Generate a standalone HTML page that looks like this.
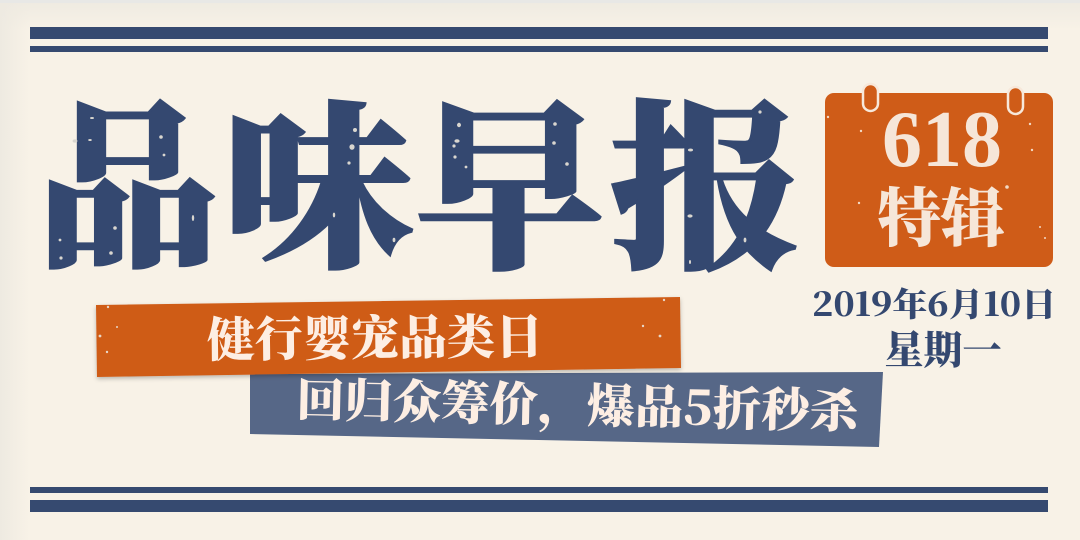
<!DOCTYPE html>
<html lang="zh-CN">
<head>
<meta charset="utf-8">
<title>品味早报</title>
<style>
html,body{margin:0;padding:0;width:1080px;height:540px;overflow:hidden;background:#f8f2e7}
svg{display:block}
.serif{font-family:"Liberation Serif","Noto Serif CJK SC",serif}
.title{font-family:"Noto Serif CJK SC",serif;font-weight:900;font-size:190px;fill:#344870;stroke:#344870;stroke-width:3px}
.cjk{font-family:"Noto Serif CJK SC",serif;font-weight:900}
</style>
</head>
<body>
<svg width="1080" height="540" viewBox="0 0 1080 540" xmlns="http://www.w3.org/2000/svg">
  <defs>
    <linearGradient id="edgeL" x1="0" x2="1" y1="0" y2="0">
      <stop offset="0" stop-color="#eeeae1"/><stop offset="1" stop-color="#eeeae1" stop-opacity="0"/>
    </linearGradient>
    <linearGradient id="edgeT" x1="0" x2="0" y1="0" y2="1">
      <stop offset="0" stop-color="#eeeae1"/><stop offset="1" stop-color="#eeeae1" stop-opacity="0"/>
    </linearGradient>
    <filter id="soft" x="-5%" y="-20%" width="110%" height="140%"><feDropShadow dx="0" dy="2" stdDeviation="2" flood-color="#000" flood-opacity=".25"/></filter>
  </defs>

  <rect width="1080" height="540" fill="#f8f2e7"/>
  <rect width="30" height="540" fill="url(#edgeL)"/>
  <rect width="1080" height="30" fill="url(#edgeT)"/>
  <rect width="1080" height="3" fill="#e8e8e6"/>

  <rect x="30" y="27" width="1018" height="12" fill="#364a70"/>
  <rect x="30" y="46" width="1018" height="6" fill="#364a70"/>
  <rect x="30" y="487" width="1018" height="6" fill="#364a70"/>
  <rect x="30" y="500" width="1018" height="12" fill="#364a70"/>

  <g>
    <text class="title" transform="translate(36.5 253) scale(.96 .95)">品</text>
    <text class="title" transform="translate(223 253) scale(1 .95)">味</text>
    <text class="title" transform="translate(414 253) scale(1 .95)">早</text>
    <text class="title" transform="translate(610 253) scale(1 .95)">报</text>
  </g>
  <g fill="#d9d6cf">
    <ellipse cx="75" cy="141" rx="2.4" ry="1.6"/><ellipse cx="92" cy="118" rx="2" ry="1"/><ellipse cx="90" cy="140" rx="1.8" ry="1"/><circle cx="161" cy="137" r="1.8"/><circle cx="164" cy="155" r="1.4"/>
    <circle cx="60" cy="240" r="1.4"/><circle cx="61" cy="258" r="1.6"/><circle cx="115" cy="228" r="1.8"/><circle cx="111" cy="253" r="1.8"/><ellipse cx="193" cy="218" rx="1.2" ry="3"/>
    <ellipse cx="352" cy="147" rx="2.6" ry="2.8"/><circle cx="355" cy="130" r="2"/><circle cx="349" cy="163" r="1.6"/><ellipse cx="334" cy="215" rx="1.2" ry="2.4"/><ellipse cx="394" cy="240" rx="1.4" ry="2.2"/>
    <ellipse cx="459" cy="125" rx="2" ry="2.2"/><ellipse cx="457" cy="141" rx="2.6" ry="1.8"/><circle cx="454" cy="146" r="1.6"/><circle cx="455" cy="157" r="1.6"/><circle cx="555" cy="124" r="1.8"/><circle cx="554" cy="143" r="1.8"/><circle cx="567" cy="164" r="1.8"/><circle cx="466" cy="167" r="1.4"/>
    <ellipse cx="690" cy="150" rx="2" ry="1.4"/><ellipse cx="690" cy="216" rx="2.6" ry="1.6"/><ellipse cx="745" cy="240" rx="1.4" ry="2.4"/><ellipse cx="690" cy="262" rx="1" ry="2"/><circle cx="760" cy="112" r="1.6"/><ellipse cx="691" cy="150" rx="2" ry="1.4"/>
  </g>

  <g>
    <rect x="825" y="93" width="228" height="174" rx="9" fill="#cf5c18"/>
    <rect x="863" y="84" width="15" height="27" rx="7.5" fill="#cf5c18" stroke="#f7e8da" stroke-width="2.5"/>
    <rect x="1008" y="87" width="15" height="27" rx="7.5" fill="#cf5c18" stroke="#f7e8da" stroke-width="2.5"/>
    <text class="serif" x="942" y="166" text-anchor="middle" font-size="80" font-weight="700" fill="#f6e6d8" textLength="120">618</text>
    <text class="cjk" x="941" y="241" text-anchor="middle" font-size="64" fill="#f6e6d8">特辑</text>
    <g fill="#f2d9c4">
      <circle cx="861" cy="131" r="1.2"/><circle cx="828" cy="117" r="1.2"/><circle cx="1030" cy="124" r="1.2"/><circle cx="1032" cy="150" r="1.2"/><circle cx="1007" cy="187" r="1.8"/><circle cx="859" cy="203" r="1.2"/><circle cx="1040" cy="227" r="1"/><circle cx="1045" cy="238" r="1"/>
    </g>
  </g>

  <text class="cjk" x="934" y="316" text-anchor="middle" font-size="33" fill="#344870" textLength="244" lengthAdjust="spacingAndGlyphs">2019年6月10日</text>
  <text class="cjk" x="943" y="364" text-anchor="middle" font-size="39" fill="#344870">星期一</text>

  <polygon points="250,374 883,372 879,447 250,434" fill="#566787"/>
  <polygon points="96,305 680,297 681,368 97,377" fill="#cf5c18" filter="url(#soft)"/>

  <text class="cjk" x="375" y="355" text-anchor="middle" font-size="48" fill="#fdeee3" transform="rotate(-0.6 375 340)">健行婴宠品类日</text>
  <text class="cjk" x="577" y="422" text-anchor="middle" font-size="47" fill="#fdeee3" textLength="562" lengthAdjust="spacingAndGlyphs" transform="rotate(1.2 577 408)">回归众筹价，爆品5折秒杀</text>

  <g fill="#e8d6c6">
    <circle cx="108" cy="307" r="1.2"/><circle cx="100" cy="336" r="1.4"/><circle cx="107" cy="352" r="1.2"/><circle cx="117" cy="327" r="1"/><circle cx="660" cy="336" r="1.4"/><circle cx="643" cy="326" r="1.2"/><circle cx="664" cy="300" r="1.2"/>
  </g>
</svg>
</body>
</html>
